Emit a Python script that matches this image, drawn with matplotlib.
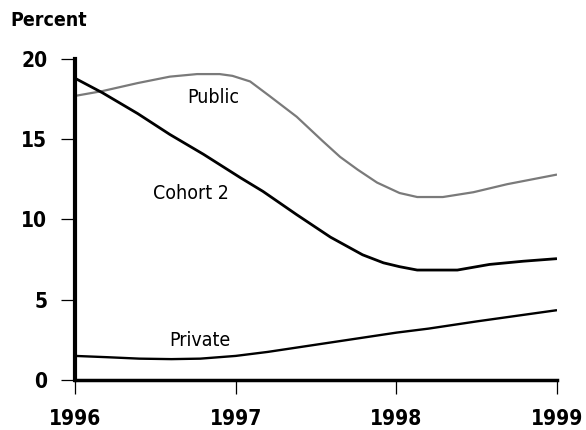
import matplotlib.pyplot as plt
from matplotlib import font_manager

# readings for each series (year, percent)
public_years = [1996.0, 1996.17, 1996.39, 1996.59, 1996.76, 1996.9, 1996.98, 1997.09,
                1997.21, 1997.38, 1997.54, 1997.65, 1997.76, 1997.88, 1998.02, 1998.13,
                1998.29, 1998.48, 1998.69, 1999.0]
public_vals = [17.7, 18.0, 18.5, 18.9, 19.06, 19.06, 18.95, 18.6,
               17.7, 16.4, 14.9, 13.9, 13.1, 12.3, 11.65, 11.4,
               11.4, 11.7, 12.2, 12.8]

cohort_years = [1996.0, 1996.17, 1996.39, 1996.59, 1996.8, 1997.03, 1997.17, 1997.38,
                1997.59, 1997.79, 1997.92, 1998.02, 1998.13, 1998.38, 1998.58, 1998.79,
                1999.0]
cohort_vals = [18.8, 17.9, 16.6, 15.3, 14.06, 12.6, 11.75, 10.3,
               8.9, 7.8, 7.3, 7.06, 6.85, 6.85, 7.2, 7.4,
               7.56]

private_years = [1996.0, 1996.2, 1996.4, 1996.6, 1996.78, 1997.0, 1997.2, 1997.4, 1997.6,
                 1997.8, 1998.0, 1998.2, 1998.5, 1998.75, 1999.0]
private_vals = [1.5, 1.42, 1.33, 1.3, 1.33, 1.5, 1.75, 2.05, 2.35,
                2.65, 2.95, 3.2, 3.65, 4.0, 4.35]

year_ticks = [1996, 1997, 1998, 1999]
pct_ticks = [0, 5, 10, 15, 20]

# prefer a narrow sans face when one is installed
fonts = font_manager.fontManager.ttflist
narrow = [f.name for f in fonts if f.name == 'Liberation Sans Narrow']
cond = [f for f in fonts if f.name == 'DejaVu Sans' and f.stretch == 'condensed']
if narrow:
    plt.rcParams['font.family'] = ['Liberation Sans Narrow', 'DejaVu Sans']
elif cond:
    plt.rcParams['font.family'] = ['DejaVu Sans']
    plt.rcParams['font.stretch'] = 'condensed'
else:
    plt.rcParams['font.family'] = ['Liberation Sans', 'DejaVu Sans']

fig = plt.figure(figsize=(5.86, 4.30), dpi=100)
ax = fig.add_axes([0.128, 0.1163, 0.8225, 0.7465])

ax.plot(public_years, public_vals, color='#7a7a7a', lw=1.6, solid_capstyle='butt')
ax.plot(cohort_years, cohort_vals, color='black', lw=2.0, solid_capstyle='butt')
ax.plot(private_years, private_vals, color='black', lw=1.7, solid_capstyle='butt')

ax.text(1996.86, 17.6, 'Public', fontsize=14, ha='center', va='center')
ax.text(1996.72, 11.6, 'Cohort 2', fontsize=14, ha='center', va='center')
ax.text(1996.78, 2.45, 'Private', fontsize=14, ha='center', va='center')

ax.set_xlim(1996, 1999)
ax.set_ylim(0, 20)
ax.set_xticks(year_ticks)
ax.set_yticks(pct_ticks)
ax.tick_params(axis='both', direction='out', length=10, width=0.9, labelsize=15)
ax.tick_params(axis='x', pad=11)
ax.tick_params(axis='y', pad=10)
for lab in ax.get_xticklabels() + ax.get_yticklabels():
    lab.set_fontweight('bold')

for side in ['top', 'right']:
    ax.spines[side].set_visible(False)
ax.spines['left'].set_linewidth(3.0)
ax.spines['bottom'].set_linewidth(2.5)

fig.text(0.017, 0.953, 'Percent', fontsize=14, fontweight='bold', va='center')

fig.savefig('out.png', dpi=100)
